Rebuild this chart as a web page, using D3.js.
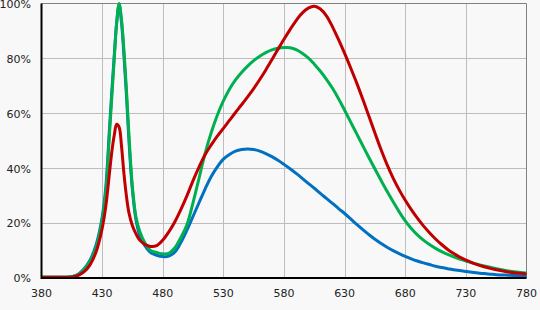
<!DOCTYPE html>
<html lang="en">
<head>
    <meta charset="UTF-8">
    <title>Spectrum</title>
    <script src="https://d3js.org/d3.v7.min.js"></script>
    <style>
        body { margin: 0; background: #f8f8f8; }
        svg { display: block; font-family: "DejaVu Sans", Verdana, sans-serif; font-size: 11px; }
    </style>
</head>
<body>
    <div id="chart-container"></div>
    <script>
        // Wavelengths (nm), denser sampling around the blue peak
        const wavelengths = [380, 385, 390, 395, 400, 405, 410, 415, 420, 425, 430, 433, 436, 438, 440, 442, 444, 446, 448, 450, 452, 455, 458, 461, 465, 470, 475, 480,
            485, 490, 495, 500, 505, 510, 515, 520, 525, 530, 535, 540, 545, 550, 555, 560, 565, 570, 575, 580, 585, 590, 595, 600,
            605, 610, 615, 620, 625, 630, 635, 640, 645, 650, 655, 660, 665, 670, 675, 680, 685, 690, 695, 700,
            705, 710, 715, 720, 725, 730, 735, 740, 745, 750, 755, 760, 765, 770, 775, 780];

        // Relative intensity (%) per series
        const blueSeries = [0.3, 0.3, 0.3, 0.3, 0.3, 0.5, 1.3, 3.3, 6.5, 12, 22, 33, 54, 68, 81, 93, 99.5, 93, 81, 67, 51, 32, 21, 15.5, 12, 9.3, 8.3, 7.8,
            8, 9.5, 13, 17.5, 22.5, 27.5, 32.5, 37, 40.5, 43.3, 45, 46.2, 46.8, 47, 46.8, 46.2, 45.3, 44.2, 42.9, 41.4, 39.8, 38.1, 36.3, 34.5,
            32.7, 30.8, 29, 27.2, 25.3, 23.5, 21.5, 19.5, 17.6, 15.8, 14.1, 12.6, 11.2, 10, 8.9, 7.9, 7, 6.2, 5.5, 4.9,
            4.3, 3.8, 3.4, 3, 2.7, 2.4, 2.1, 1.8, 1.6, 1.4, 1.2, 1.1, 1, 0.9, 0.8, 0.7];

        const greenSeries = [0.3, 0.3, 0.3, 0.3, 0.3, 0.5, 1.2, 3, 6, 11, 21, 31, 52, 66, 80, 93, 100, 94, 83, 69, 53, 33, 22, 17, 13, 10, 9.3, 8.8,
            9, 11, 14.8, 19.5, 27.5, 36.5, 45.5, 53, 59.3, 64.5, 68.8, 72.2, 74.9, 77.2, 79.2, 80.8, 82.1, 83.1, 83.7, 84, 83.9, 83.2, 81.9, 80.2,
            77.9, 75.3, 72.4, 69.1, 65.3, 61.1, 56.8, 52.5, 48.2, 43.9, 39.7, 35.6, 31.6, 27.8, 24.1, 20.8, 18, 15.7, 13.8, 12.2,
            10.8, 9.6, 8.6, 7.7, 6.9, 6.2, 5.5, 4.9, 4.4, 3.9, 3.4, 3, 2.6, 2.3, 2, 1.8];

        const redSeries = [0.3, 0.3, 0.3, 0.3, 0.3, 0.4, 0.9, 2.2, 4.8, 9.5, 18, 26, 38, 46, 52, 56, 55, 48, 38, 30, 24, 19, 16, 13.8, 12.3, 11.5, 11.8, 13.8,
            16.8, 20.5, 25, 30, 35.5, 40.5, 45, 48.5, 51.7, 54.5, 57.4, 60.3, 63.1, 66, 69, 72.3, 75.8, 79.5, 83.3, 87, 90.5, 93.8, 96.5, 98.3,
            99, 98, 95.5, 91.5, 86.8, 81.8, 76.5, 71, 65.1, 59, 52.8, 46.8, 41.3, 36.4, 32.1, 28.3, 24.9, 21.8, 19, 16.5,
            14.2, 12.2, 10.4, 8.9, 7.6, 6.5, 5.6, 4.8, 4.1, 3.5, 3, 2.6, 2.2, 1.9, 1.7, 1.5];

        const xTicks = [380, 430, 480, 530, 580, 630, 680, 730, 780];
        const yTicks = [0, 20, 40, 60, 80, 100];

        const width = 540;
        const height = 310;
        const margin = { left: 41.5, right: 13.5, top: 3.5, bottom: 32 };

        const x = d3.scaleLinear().domain([380, 780]).range([margin.left, width - margin.right]);
        const y = d3.scaleLinear().domain([0, 100]).range([height - margin.bottom, margin.top]);

        const svg = d3.select("#chart-container")
            .append("svg")
            .attr("width", width)
            .attr("height", height);

        // Gridlines
        svg.append("g")
            .selectAll("line")
            .data(xTicks.slice(1, -1))
            .join("line")
            .attr("x1", d => Math.round(x(d)) + 0.5)
            .attr("x2", d => Math.round(x(d)) + 0.5)
            .attr("y1", y(100))
            .attr("y2", y(0))
            .attr("stroke", "#bdbdbd");

        svg.append("g")
            .selectAll("line")
            .data(yTicks.slice(1, -1))
            .join("line")
            .attr("x1", x(380))
            .attr("x2", x(780))
            .attr("y1", d => Math.round(y(d)) + 0.5)
            .attr("y2", d => Math.round(y(d)) + 0.5)
            .attr("stroke", "#bdbdbd");

        // Top and right border
        svg.append("path")
            .attr("d", `M${x(380)},${y(100)}H${x(780)}V${y(0)}`)
            .attr("fill", "none")
            .attr("stroke", "#808080");

        // Series lines
        const series = [
            { values: blueSeries, color: "#0070c0" },
            { values: greenSeries, color: "#00b050" },
            { values: redSeries, color: "#c00000" }
        ];

        const line = d3.line()
            .x((d, i) => x(wavelengths[i]))
            .y(d => y(d))
            .curve(d3.curveCatmullRom.alpha(0.5));

        svg.append("g")
            .selectAll("path")
            .data(series)
            .join("path")
            .attr("d", d => line(d.values))
            .attr("fill", "none")
            .attr("stroke", d => d.color)
            .attr("stroke-width", 3)
            .attr("stroke-linejoin", "round");

        // Axes (black left and bottom lines)
        svg.append("path")
            .attr("d", `M${x(380)},${y(100)}V${y(0)}H${x(780)}`)
            .attr("fill", "none")
            .attr("stroke", "#000")
            .attr("stroke-width", 2);

        // Tick labels
        svg.append("g")
            .selectAll("text")
            .data(xTicks)
            .join("text")
            .attr("x", d => x(d))
            .attr("y", y(0) + 15)
            .attr("dy", "0.35em")
            .attr("text-anchor", "middle")
            .attr("fill", "#222")
            .text(d => d);

        svg.append("g")
            .selectAll("text")
            .data(yTicks)
            .join("text")
            .attr("x", 31)
            .attr("y", d => y(d) + 0.5)
            .attr("dy", "0.35em")
            .attr("text-anchor", "end")
            .attr("fill", "#222")
            .text(d => d + "%");
    </script>
</body>
</html>
